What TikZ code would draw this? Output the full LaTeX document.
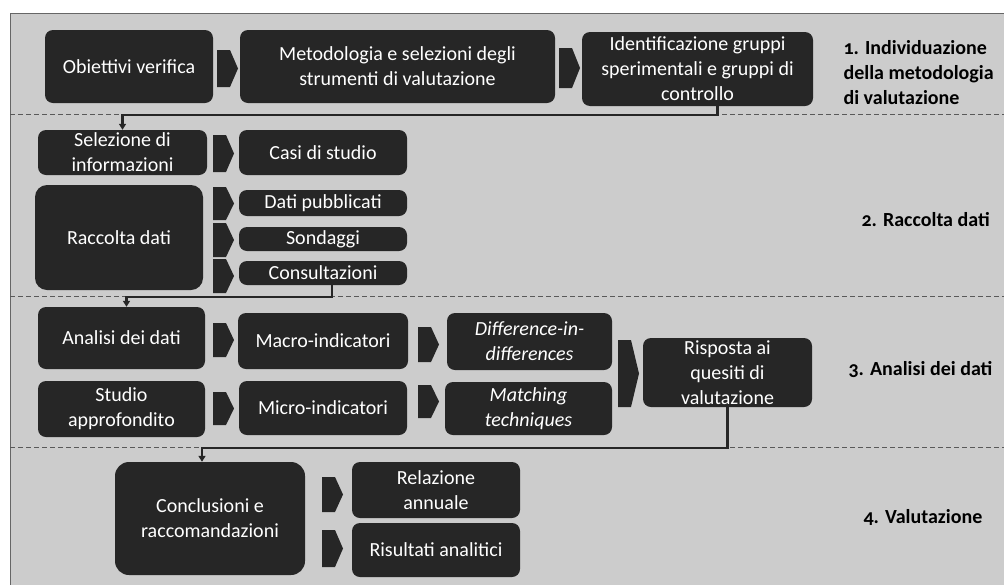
\documentclass[tikz,border=0pt]{standalone}
\usepackage{fontspec}
\setmainfont{Carlito}
\newfontfamily\phasefont{Carlito}[Numbers=OldStyle]
\usetikzlibrary{arrows.meta}

\definecolor{boxgray}{gray}{0.15}
\definecolor{paper}{gray}{0.80}

% chevron: left x, top y, bottom y
\newcommand\chev[3]{\fill[boxgray] (#1,#2) -- (#1+13,#2) -- (#1+21,{(#2+#3)/2}) -- (#1+13,#3) -- (#1,#3) -- cycle;}

\tikzset{
  box/.style={fill=boxgray, rounded corners=8pt, text=white, align=center, inner sep=0pt,
    font=\fontsize{20}{25}\selectfont},
  link/.style={line width=2.2pt, black!85, -{Triangle[length=6pt,width=7pt]}},
  phase/.style={anchor=west, align=left, font=\phasefont\bfseries\fontsize{20}{25}\selectfont},
  sep/.style={black!65, line width=0.7pt, dash pattern=on 5pt off 3pt}
}

\begin{document}
\begin{tikzpicture}[x=1pt,y=-1pt]
\clip (0,0) rectangle (1004,584);
\fill[white] (0,0) rectangle (1004,584);
\draw[fill=paper, draw=black!60, line width=0.8pt] (10,13) rectangle (1012,592);

% phase separators
\draw[sep] (10,114) -- (1004,114);
\draw[sep] (10,296) -- (1004,296);
\draw[sep] (10,447) -- (1004,447);

% 1. methodology
\node[box, minimum width=168, minimum height=73] (obj) at (129,66.5) {Obiettivi verifica};
\node[box, minimum width=315, minimum height=73] (meth) at (397.5,66.5) {Metodologia e selezioni degli\\strumenti di valutazione};
\node[box, minimum width=231, minimum height=74] (ident) at (697.5,69) {Identificazione gruppi\\sperimentali e gruppi di\\controllo};
\chev{217}{50}{87}
\chev{559}{48}{88}

% 2. data collection
\node[box, minimum width=169, minimum height=45] (sel) at (122.5,152.5) {Selezione di\\informazioni};
\node[box, minimum width=168, minimum height=45] (casi) at (323,152.5) {Casi di studio};
\node[box, minimum width=168, minimum height=105, rounded corners=12pt] (racc) at (119,237.5) {Raccolta dati};
\node[box, minimum width=168, minimum height=26] (dati) at (323,203) {Dati pubblicati};
\node[box, minimum width=168, minimum height=24] (sond) at (323,239) {Sondaggi};
\node[box, minimum width=168, minimum height=24] (cons) at (323,273) {Consultazioni};
\chev{213}{135}{172}
\chev{213}{187}{220}
\chev{213}{223}{257}
\chev{213}{259}{293}

% 3. data analysis
\node[box, minimum width=167, minimum height=62] (anal) at (121.5,338) {Analisi dei dati};
\node[box, minimum width=170, minimum height=56] (macro) at (323,341) {Macro-indicatori};
\node[box, minimum width=165, minimum height=57, font=\itshape\fontsize{20}{25}\selectfont] (diff) at (529.5,341.5) {Difference-in-\\differences};
\node[box, minimum width=167, minimum height=56] (stud) at (121.5,409) {Studio\\approfondito};
\node[box, minimum width=168, minimum height=54] (micro) at (323,408) {Micro-indicatori};
\node[box, minimum width=167, minimum height=53, font=\itshape\fontsize{20}{25}\selectfont] (match) at (528.5,408.5) {Matching\\techniques};
\node[box, minimum width=169, minimum height=69] (risp) at (727.5,372.5) {Risposta ai\\quesiti di\\valutazione};
\chev{213}{323}{357}
\chev{418}{327}{362}
\chev{213}{392}{425}
\chev{418}{385}{418}
\chev{618}{340}{407}

% 4. evaluation
\node[box, minimum width=190, minimum height=113, rounded corners=14pt] (concl) at (210,518.5) {Conclusioni e\\raccomandazioni};
\node[box, minimum width=168, minimum height=56] (rel) at (436,490) {Relazione\\annuale};
\node[box, minimum width=168, minimum height=54] (ris) at (436,550) {Risultati analitici};
\chev{322}{477}{512}
\chev{322}{530}{567}

% links between phases
\draw[link] ([xshift=20]ident.south) -- ++(0,9) -| (sel.north);
\draw[link] ([xshift=9]cons.south) -- ++(0,12) -| ([xshift=5]anal.north);
\draw[link] (risp.south) -- ++(0,41) -| ([xshift=-8]concl.north);

% phase labels
\node[phase] (p1) at (840,73) {1. Individuazione\\della metodologia\\di valutazione};
\node[phase] (p2) at (858,220) {2. Raccolta dati};
\node[phase] (p3) at (845,370) {3. Analisi dei dati};
\node[phase] (p4) at (860,517) {4. Valutazione};
\end{tikzpicture}
\end{document}
